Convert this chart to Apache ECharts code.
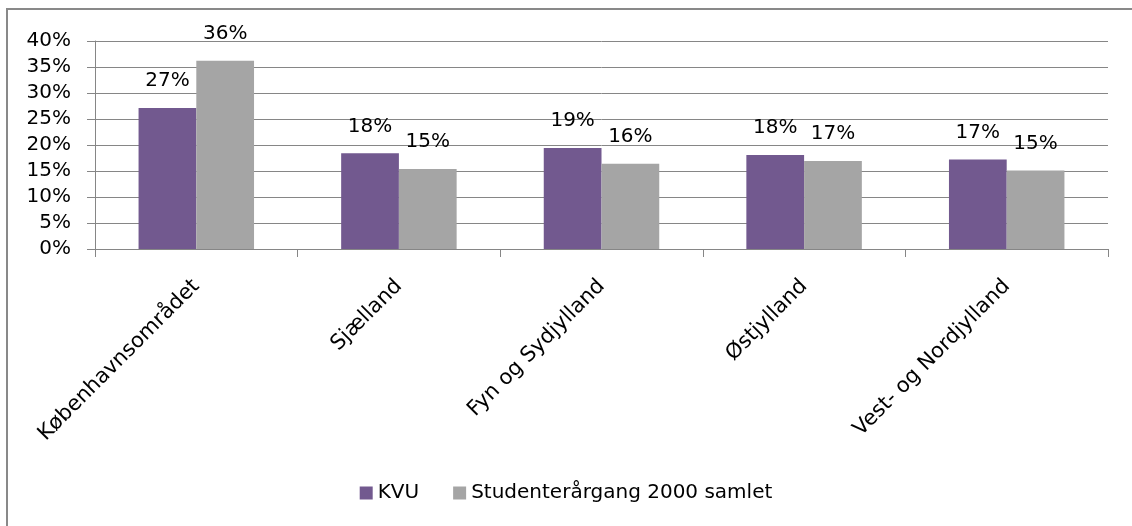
<!DOCTYPE html>
<html>
<head>
<meta charset="utf-8">
<script src="https://cdn.jsdelivr.net/npm/echarts@6/dist/echarts.min.js"></script>
<style>html,body{margin:0;padding:0;background:#fff}#c{width:1132px;height:526px}</style>
</head>
<body>
<div id="c"></div>
<script>
const categories = ['Københavnsområdet', 'Sjælland', 'Fyn og Sydjylland', 'Østjylland', 'Vest- og Nordjylland'];
const kvu = [27.1, 18.4, 19.4, 18.1, 17.2];
const student = [36.2, 15.4, 16.4, 16.9, 15.1];
const seriesNames = ['KVU', 'Studenterårgang 2000 samlet'];
const yTicks = [0, 5, 10, 15, 20, 25, 30, 35, 40];

const FONT = 'DejaVu Sans';
const chart = echarts.init(document.getElementById('c'));
const labelCfg = {
  show: true, position: 'top', distance: 17,
  fontFamily: FONT, fontSize: 20, color: '#000',
  formatter: p => Math.round(p.value) + '%'
};
chart.setOption({
  animation: false,
  textStyle: { fontFamily: FONT },
  graphic: [{
    type: 'rect', shape: { x: 7, y: 9, width: 1140, height: 540 },
    style: { fill: 'none', stroke: '#898989', lineWidth: 2 }, silent: true
  }],
  grid: { left: 95, right: 24, top: 41, bottom: 277 },
  legend: {
    data: seriesNames, bottom: 18, left: 'center',
    itemWidth: 13, itemHeight: 13, itemGap: 34, icon: 'rect',
    textStyle: { fontFamily: FONT, fontSize: 20, color: '#000' }
  },
  xAxis: {
    type: 'category', data: categories,
    axisLine: { lineStyle: { color: '#868686', width: 1 } },
    axisTick: { show: true, length: 8, lineStyle: { color: '#868686' } },
    axisLabel: { rotate: 45, margin: 34, fontFamily: FONT, fontSize: 21, color: '#000', interval: 0 }
  },
  yAxis: {
    type: 'value', min: 0, max: 40, interval: 5,
    axisLine: { show: true, lineStyle: { color: '#868686' } },
    axisTick: { show: true, length: 8, lineStyle: { color: '#868686' } },
    splitLine: { lineStyle: { color: '#868686', width: 1 } },
    axisLabel: { margin: 24, fontFamily: FONT, fontSize: 20, color: '#000',
      formatter: v => yTicks.includes(v) ? v + '%' : '' }
  },
  series: [
    { name: seriesNames[0], type: 'bar', data: kvu, barGap: '0%', barCategoryGap: '43%',
      itemStyle: { color: '#72598F' }, label: labelCfg },
    { name: seriesNames[1], type: 'bar', data: student,
      itemStyle: { color: '#A5A5A5' }, label: labelCfg }
  ]
});
</script>
</body>
</html>
